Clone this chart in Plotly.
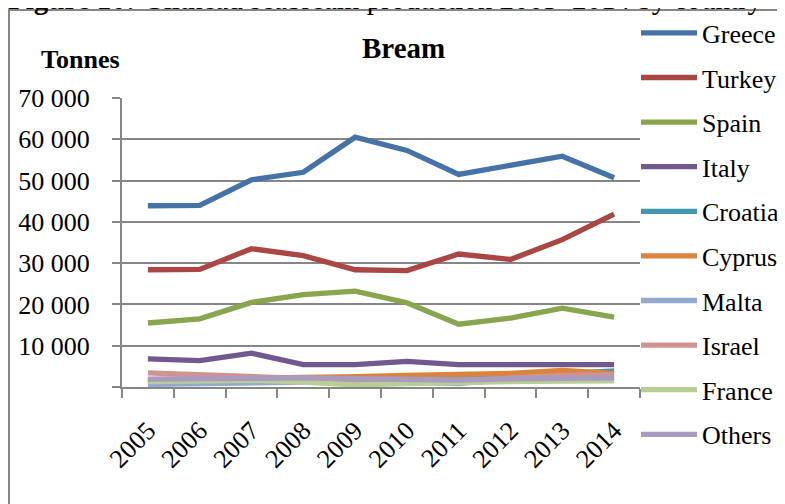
import plotly.graph_objects as go

years = ["2005", "2006", "2007", "2008", "2009", "2010", "2011", "2012", "2013", "2014"]

greece = [43900, 44000, 50200, 52000, 60500, 57300, 51500, 53800, 55900, 50700]
turkey = [28400, 28500, 33500, 31800, 28400, 28200, 32200, 30900, 35700, 41900]
spain = [15500, 16500, 20500, 22400, 23200, 20400, 15200, 16700, 19100, 16900]
italy = [6800, 6400, 8200, 5400, 5400, 6200, 5400, 5400, 5400, 5400]
croatia = [1500, 1600, 1700, 1800, 1900, 2000, 2100, 3000, 3200, 3900]
cyprus = [1800, 1900, 2000, 2200, 2500, 2800, 3000, 3300, 4000, 3300]
malta = [600, 700, 900, 1200, 1500, 1200, 800, 1900, 2100, 2200]
israel = [3400, 2900, 2400, 2000, 1500, 1200, 1500, 2300, 2800, 3000]
france = [1300, 1300, 1600, 1200, 500, 800, 1200, 1300, 1400, 1500]
others = [1900, 2100, 2300, 2200, 2000, 1900, 1700, 2000, 2200, 2200]

series_names = ["Greece", "Turkey", "Spain", "Italy", "Croatia", "Cyprus",
                "Malta", "Israel", "France", "Others"]
series_values = [greece, turkey, spain, italy, croatia, cyprus,
                 malta, israel, france, others]
series_colors = ["#4572A7", "#AA4643", "#89A54E", "#71588F", "#4198AF",
                 "#DB843D", "#93A9CF", "#D19392", "#B9CD96", "#A99BBD"]

y_tickvals = [0, 10000, 20000, 30000, 40000, 50000, 60000, 70000]
y_ticktext = ["", "10 000", "20 000", "30 000", "40 000", "50 000", "60 000", "70 000"]

FONT = "Liberation Serif"
GRAY = "#868686"

# page offset of the figure inside the browser window (default body margin)
OFF = 8
W, H = 785, 504
# plot area in page pixels: x 122..640, y 98..387
L = 122 - OFF
T = 98 - OFF
R = W - (640 - OFF)
B = H - (387 - OFF)
PW = W - L - R
PH = H - T - B


def px_x(p):
    return (p - OFF - L) / PW


def px_y(p):
    return (H - B - (p - OFF)) / PH


fig = go.Figure()
legend_layouts = {}
for i, (name, vals, col) in enumerate(zip(series_names, series_values, series_colors)):
    key = "legend" if i == 0 else f"legend{i + 1}"
    fig.add_trace(go.Scatter(
        x=years, y=vals, name=name, mode="lines",
        line=dict(color=col, width=5.3),
        legend=key,
    ))
    legend_layouts[key] = dict(
        x=px_x(636), y=px_y(33 + 44.6 * i), xanchor="left", yanchor="middle",
        font=dict(family=FONT, size=26, color="black"),
        itemwidth=56, bgcolor="rgba(0,0,0,0)",
    )

fig.update_layout(
    width=W, height=H,
    margin=dict(l=L, r=R, t=T, b=B, autoexpand=False),
    paper_bgcolor="white", plot_bgcolor="white",
    font=dict(family=FONT, size=26, color="black"),
    showlegend=True,
    xaxis=dict(
        type="category", tickangle=-45, range=[-0.5, 9.5], automargin=False,
        showline=True, linecolor=GRAY, linewidth=2,
        ticks="outside", tickson="boundaries", ticklen=9, tickcolor=GRAY, tickwidth=2,
        showgrid=False, ticklabelstandoff=16,
        tickfont=dict(family=FONT, size=26, color="black"),
    ),
    yaxis=dict(
        range=[0, 70000], tickvals=y_tickvals, ticktext=y_ticktext, automargin=False,
        showline=True, linecolor=GRAY, linewidth=2,
        ticks="outside", ticklen=8, tickcolor=GRAY, tickwidth=2,
        showgrid=True, gridcolor=GRAY, gridwidth=2,
        zeroline=False, ticklabelstandoff=17,
        tickfont=dict(family=FONT, size=26, color="black"),
    ),
    shapes=[dict(
        type="rect", xref="paper", yref="paper",
        x0=px_x(9), x1=px_x(900), y0=px_y(700), y1=px_y(10),
        line=dict(color=GRAY, width=2), fillcolor="rgba(0,0,0,0)", layer="below",
    )],
    annotations=[
        dict(text="<b>Figure 10:</b> Gilthead seabream production 2005–2014 by country",
             xref="paper", yref="paper", x=px_x(6), y=px_y(17),
             xanchor="left", yanchor="bottom", showarrow=False,
             font=dict(family=FONT, size=29, color="black")),
        dict(text="<b>Bream</b>", xref="paper", yref="paper",
             x=px_x(403), y=px_y(48),
             xanchor="center", yanchor="middle", showarrow=False,
             font=dict(family=FONT, size=29, color="black")),
        dict(text="<b>Tonnes</b>", xref="paper", yref="paper",
             x=px_x(39), y=px_y(60),
             xanchor="left", yanchor="middle", showarrow=False,
             font=dict(family=FONT, size=26, color="black")),
    ],
)
fig.update_layout(**legend_layouts)

fig.write_html("out.html")
